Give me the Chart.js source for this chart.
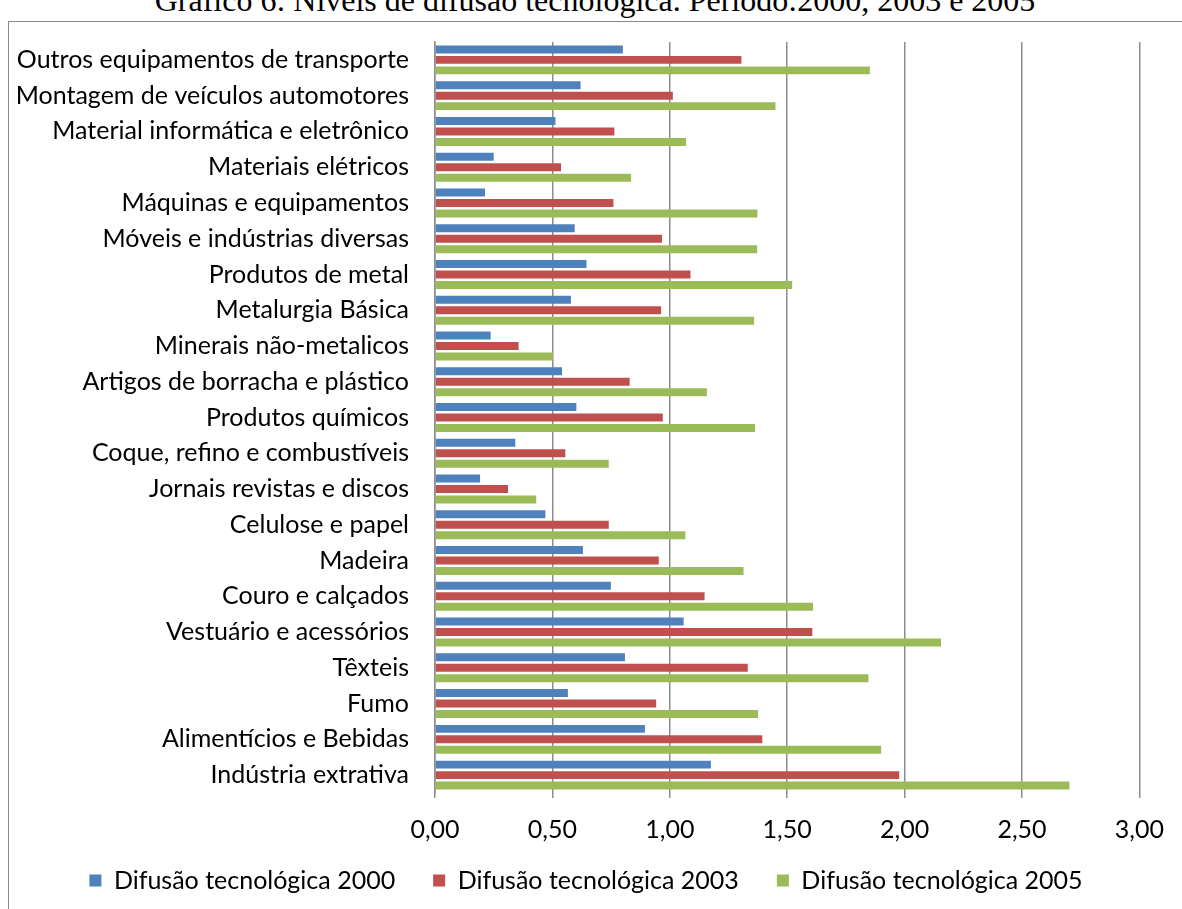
<!DOCTYPE html>
<html lang="pt">
<head>
<meta charset="utf-8">
<title>Níveis de difusão tecnológica</title>
<script src="https://cdn.jsdelivr.net/npm/chart.js@4.4.1/dist/chart.umd.min.js"></script>
<style>
  html, body { margin: 0; padding: 0; background: #fff; overflow: hidden; }
  body { width: 1182px; height: 909px; position: relative; }
  #titulo {
    position: absolute; left: 0; width: 1190px; top: -16px;
    font: 32px "Liberation Serif", "Times New Roman", serif;
    line-height: 32px; text-align: center; color: #000; white-space: nowrap;
  }
  #moldura {
    position: absolute; left: 8px; top: 21px; width: 1300px; height: 1000px;
    border: 1px solid #8a8a8a; box-sizing: border-box;
  }
  #grafico { position: absolute; left: 9px; top: 12px; }
</style>
</head>
<body>
<div id="titulo">Gráfico 6: Níveis de difusão tecnológica. Período:2000, 2003 e 2005</div>
<div id="moldura"></div>
<canvas id="grafico" width="1173" height="909"></canvas>
<script>
// Setores industriais, de cima para baixo
const setores = [
  "Outros equipamentos de transporte",
  "Montagem de veículos automotores",
  "Material informática e eletrônico",
  "Materiais elétricos",
  "Máquinas e equipamentos",
  "Móveis e indústrias diversas",
  "Produtos de metal",
  "Metalurgia Básica",
  "Minerais não-metalicos",
  "Artigos de borracha e plástico",
  "Produtos químicos",
  "Coque, refino e combustíveis",
  "Jornais revistas e discos",
  "Celulose e papel",
  "Madeira",
  "Couro e calçados",
  "Vestuário e acessórios",
  "Têxteis",
  "Fumo",
  "Alimentícios e Bebidas",
  "Indústria extrativa"
];

// Níveis de difusão tecnológica por ano
const difusao2000 = [0.80, 0.62, 0.513, 0.25, 0.213, 0.595, 0.645, 0.579, 0.237, 0.541, 0.602,
                     0.342, 0.192, 0.470, 0.630, 0.749, 1.059, 0.809, 0.566, 0.894, 1.175];
const difusao2003 = [1.305, 1.013, 0.764, 0.537, 0.76, 0.967, 1.088, 0.963, 0.356, 0.829, 0.970,
                     0.555, 0.311, 0.740, 0.953, 1.148, 1.607, 1.332, 0.942, 1.394, 1.977];
const difusao2005 = [1.852, 1.45, 1.069, 0.835, 1.373, 1.372, 1.521, 1.359, 0.503, 1.158, 1.363,
                     0.740, 0.431, 1.066, 1.314, 1.610, 2.155, 1.846, 1.376, 1.900, 2.702];

const nomesSeries = ["Difusão tecnológica 2000", "Difusão tecnológica 2003", "Difusão tecnológica 2005"];
const rotulosEixo = ["0,00", "0,50", "1,00", "1,50", "2,00", "2,50", "3,00"];

const fonteTexto = { family: "Lato, 'Open Sans', sans-serif", size: 25 };
const cinzaGrade = "#8c8c8c";

// Desloca a legenda depois do layout para aproximá-la dos rótulos do eixo
const ajusteLegenda = {
  id: "ajusteLegenda",
  afterLayout(chart) {
    const lg = chart.legend;
    if (!lg) return;
    const dx = 10, dy = -14;
    lg.left += dx; lg.right += dx;
    lg.top += dy; lg.bottom += dy;
  }
};

function desenhar() {
  new Chart(document.getElementById("grafico"), {
    type: "bar",
    data: {
      labels: setores,
      datasets: [
        { label: nomesSeries[0], data: difusao2000, backgroundColor: "#4f81bd" },
        { label: nomesSeries[1], data: difusao2003, backgroundColor: "#c0504d" },
        { label: nomesSeries[2], data: difusao2005, backgroundColor: "#9bbb59" }
      ]
    },
    plugins: [ajusteLegenda],
    options: {
      indexAxis: "y",
      responsive: false,
      animation: false,
      datasets: { bar: { categoryPercentage: 0.88, barPercentage: 0.76, borderWidth: 0 } },
      layout: { padding: { left: 0, right: 39, top: 30, bottom: 4 } },
      plugins: {
        legend: {
          position: "bottom",
          labels: { boxWidth: 12, boxHeight: 12, padding: 38, color: "#000", font: fonteTexto }
        },
        tooltip: { enabled: false },
        title: { display: false }
      },
      scales: {
        x: {
          min: 0, max: 3,
          ticks: {
            stepSize: 0.5, padding: 18, color: "#000",
            font: Object.assign({}, fonteTexto, { lineHeight: 1.1 }),
            maxRotation: 0, autoSkip: false,
            callback: (v, i) => rotulosEixo[i]
          },
          grid: { color: cinzaGrade, lineWidth: 1.5, drawTicks: true, tickLength: 5, tickColor: cinzaGrade },
          border: { display: false },
          afterFit: (s) => { s.height = 51; }
        },
        y: {
          ticks: { padding: 26, color: "#000", font: fonteTexto, autoSkip: false },
          grid: { display: false, drawTicks: false },
          border: { display: true, color: cinzaGrade, width: 1.5 },
          afterFit: (s) => { s.width = 426; s.paddingTop = 0; s.paddingBottom = 0; }
        }
      }
    }
  });
}

if (document.fonts && document.fonts.load) {
  document.fonts.load("25px Lato").then(desenhar, desenhar);
} else {
  desenhar();
}
</script>
</body>
</html>
